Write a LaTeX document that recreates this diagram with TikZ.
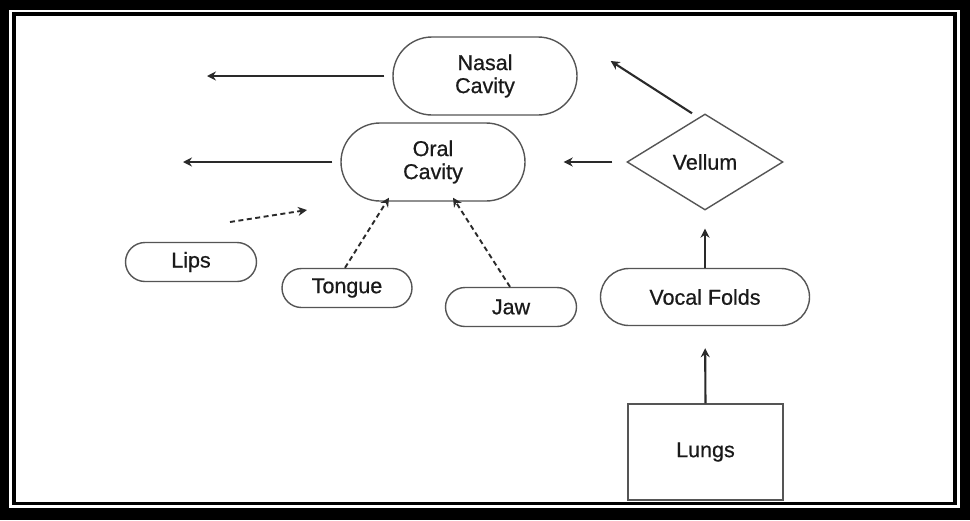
\documentclass[tikz,border=0pt]{standalone}
\usepackage{fontspec}
\setmainfont{Liberation Sans}
\newfontfamily\nodefont[RawFeature={embolden=0.6}]{Liberation Sans}
\usetikzlibrary{shapes.geometric,shapes.misc,arrows.meta}
\definecolor{outl}{HTML}{555555}
\definecolor{txt}{HTML}{1A1A1A}
\definecolor{arr}{HTML}{2A2A2A}
\tikzset{
  every node/.style={font=\nodefont\fontsize{21.5}{23}\selectfont, text=txt, align=center},
  pill/.style={rounded rectangle, draw=outl, line width=1.4pt, inner sep=0pt},
  diam/.style={diamond, draw=outl, line width=1.4pt, inner sep=0pt, aspect=1.625},
  boxnode/.style={rectangle, draw=outl, line width=1.4pt, inner sep=0pt},
  arrline/.style={draw=arr, line width=2.1pt, -{Stealth[length=9pt,width=9pt]}},
  dashline/.style={draw=arr, line width=1.9pt, dash pattern=on 5pt off 3.5pt, -{Stealth[length=9pt,width=9pt]}}
}
\begin{document}
\begin{tikzpicture}[x=1pt,y=-1pt]
% frame
\fill[black] (0,0) rectangle (970,520);
\fill[white] (9,10) rectangle (960,508);
\fill[black] (12,12) rectangle (957,505);
\fill[white] (16,16) rectangle (953,502);
\useasboundingbox (0,0) rectangle (970,520);

% nodes
\node[pill, minimum width=184pt, minimum height=78pt] (nasal) at (485,76) {Nasal\\Cavity};
\node[pill, minimum width=184pt, minimum height=78pt] (oral) at (433,162) {Oral\\Cavity};
\node[pill, minimum width=131pt, minimum height=39pt] (lips) at (191,262) {Lips};
\node[pill, minimum width=130pt, minimum height=39pt] (tongue) at (347,288) {Tongue};
\node[pill, minimum width=131pt, minimum height=39pt] (jaw) at (511,307) {Jaw};
\node[pill, minimum width=209pt, minimum height=57pt] (vocal) at (705,297) {Vocal Folds};
\node[diam, minimum width=156pt, minimum height=96pt] (vel) at (705,162) {Vellum};
\node[boxnode, minimum width=155pt, minimum height=96pt] (lungs) at (705.5,452) {Lungs};

% free ends
\coordinate (nasalout) at (207,76);
\coordinate (oralout) at (183,162);
\coordinate (lipsstart) at (230,222);
\coordinate (lipstip) at (307,210);

% connectors
\draw[arrline, shorten <=8pt] (nasal.west) -- (nasalout);
\draw[arrline, shorten <=8pt] (oral.west) -- (oralout);
\draw[arrline, shorten <=14pt, shorten >=38pt] (vel.west) -- (oral.east);
\draw[arrline] ([xshift=-13pt]vel.north) -- ([xshift=33pt,yshift=15pt]nasal.east);
\draw[arrline, shorten >=18pt] (vocal.north) -- (vel.south);
\draw[arrline, shorten >=22pt] (lungs.north) -- (vocal.south);
\draw[dashline] (lipsstart) -- (lipstip);
\draw[dashline] ([xshift=-2pt]tongue.north) -- ([xshift=-44pt,yshift=4pt]oral.south);
\draw[dashline] ([xshift=-1pt]jaw.north) -- ([xshift=20pt,yshift=4pt]oral.south);
\end{tikzpicture}
\end{document}
